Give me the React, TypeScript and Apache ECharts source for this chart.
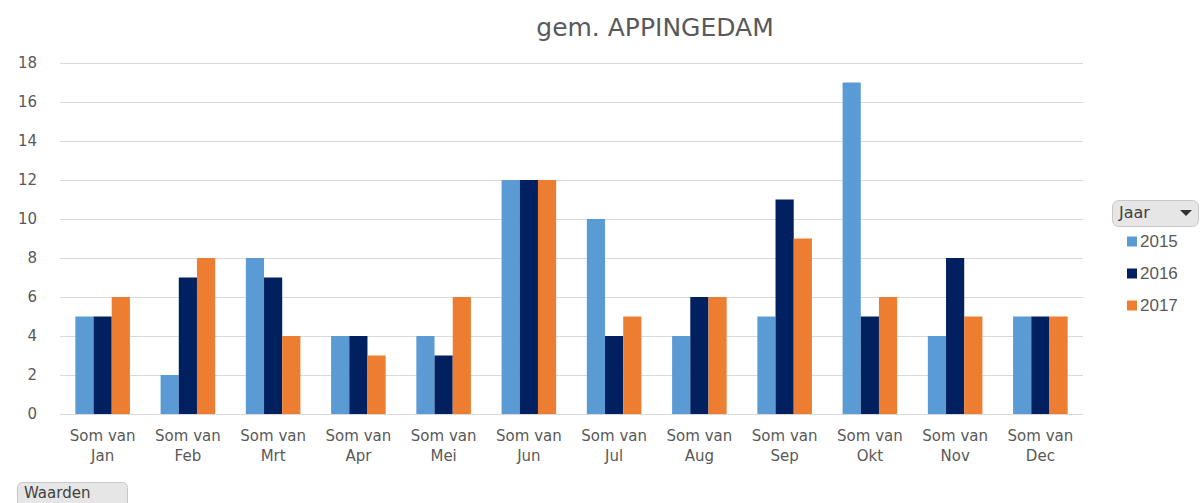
import React, { useEffect, useRef } from "react";
import * as echarts from "echarts";

const months = ["Jan", "Feb", "Mrt", "Apr", "Mei", "Jun", "Jul", "Aug", "Sep", "Okt", "Nov", "Dec"];
const categories = months.map((m) => "Som van\n" + m);
const years = ["2015", "2016", "2017"];
const v2015 = [5, 2, 8, 4, 4, 12, 10, 4, 5, 17, 4, 5];
const v2016 = [5, 7, 7, 4, 3, 12, 4, 6, 11, 5, 8, 5];
const v2017 = [6, 8, 4, 3, 6, 12, 5, 6, 9, 6, 5, 5];
const colors = ["#5B9BD5", "#002060", "#ED7D31"];

export default function App() {
  const ref = useRef<HTMLDivElement>(null);
  useEffect(() => {
    if (!ref.current) return;
    const chart = echarts.init(ref.current, undefined, { renderer: "svg" });
    const values = [v2015, v2016, v2017];
    chart.setOption({
      animation: false,
      backgroundColor: "#ffffff",
      title: {
        text: "gem. APPINGEDAM",
        left: 650,
        textAlign: "center",
        top: 10,
        textStyle: { fontFamily: "DejaVu Sans", fontSize: 25, fontWeight: "normal", color: "#595959" },
      },
      grid: { left: 60, right: 119, top: 63, bottom: 89, containLabel: false },
      xAxis: {
        type: "category",
        data: categories,
        axisLine: { show: true, lineStyle: { color: "#d9d9d9" } },
        axisTick: { show: false },
        axisLabel: {
          interval: 0,
          color: "#595959",
          fontFamily: "DejaVu Sans",
          fontSize: 15,
          lineHeight: 20,
          margin: 12,
        },
      },
      yAxis: {
        type: "value",
        min: 0,
        max: 18,
        interval: 2,
        axisLine: { show: false },
        axisTick: { show: false },
        splitLine: { lineStyle: { color: "#d9d9d9" } },
        axisLabel: { color: "#595959", fontFamily: "DejaVu Sans", fontSize: 15, margin: 23 },
      },
      legend: {
        orient: "vertical",
        left: 1122,
        top: 228,
        itemWidth: 10,
        itemHeight: 10,
        itemGap: 15,
        icon: "rect",
        data: years,
        textStyle: { color: "#595959", fontFamily: "Liberation Sans", fontSize: 17, padding: [0, 0, 0, -2] },
      },
      graphic: [
        {
          type: "rect",
          left: 1112,
          top: 200,
          shape: { width: 86, height: 26, r: 6 },
          style: { fill: "#e6e6e6", stroke: "#c8c8c8", lineWidth: 1 },
        },
        {
          type: "text",
          left: 1119,
          top: 204,
          style: { text: "Jaar", fill: "#404040", font: "16px 'DejaVu Sans'" },
        },
        {
          type: "polygon",
          shape: { points: [[1180, 210], [1192, 210], [1186, 216]] },
          style: { fill: "#333333" },
        },
        {
          type: "rect",
          left: 17,
          top: 482,
          shape: { width: 110, height: 26, r: 5 },
          style: { fill: "#e6e6e6", stroke: "#c8c8c8", lineWidth: 1 },
        },
        {
          type: "text",
          left: 24,
          top: 485,
          style: { text: "Waarden", fill: "#404040", font: "15px 'DejaVu Sans'" },
        },
      ],
      series: years.map((y, i) => ({
        name: y,
        type: "bar",
        data: values[i],
        barGap: "0%",
        barCategoryGap: "36%",
        itemStyle: { color: colors[i] },
      })),
    });
    return () => chart.dispose();
  }, []);
  return (
    <div
      ref={ref}
      style={{ position: "fixed", left: 0, top: 0, width: 1202, height: 503 }}
    />
  );
}
